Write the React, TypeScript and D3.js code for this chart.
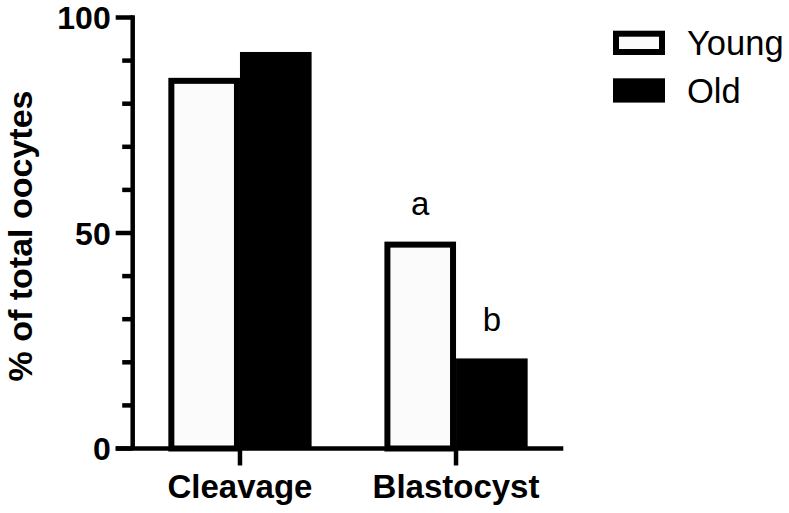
import React, { useEffect, useRef } from 'react';
import * as d3 from 'd3';

const categories = ['Cleavage', 'Blastocyst'];
const groups = ['Young', 'Old'];
const youngValues = [86.0, 48.0];
const oldValues = [92.0, 20.9];
const letters = [
  { category: 'Blastocyst', group: 'Young', label: 'a' },
  { category: 'Blastocyst', group: 'Old', label: 'b' },
];
const majorTicks = [0, 50, 100];
const minorTicks = [10, 20, 30, 40, 60, 70, 80, 90];

const FONT = "Arial, 'Liberation Sans', Helvetica, sans-serif";

const App: React.FC = () => {
  const chartRef = useRef<SVGSVGElement>(null);

  useEffect(() => {
    if (!chartRef.current) return;
    const width = 789;
    const height = 513;

    const svg = d3.select(chartRef.current);
    svg.selectAll('*').remove();
    svg.attr('width', width).attr('height', height);

    const left = 132.7;
    const right = 563.3;
    const y = d3.scaleLinear().domain([0, 100]).range([448.5, 17.5]);

    const x0 = d3
      .scaleBand<string>()
      .domain(categories)
      .range([left, right])
      .paddingInner(0.337)
      .paddingOuter(0.165);
    const x1 = d3.scaleBand<string>().domain(groups).range([0, x0.bandwidth()]);

    const data = categories.map((c, i) => ({
      category: c,
      values: [
        { group: 'Young', value: youngValues[i] },
        { group: 'Old', value: oldValues[i] },
      ],
    }));

    const sw = 6;

    // bars
    const g = svg
      .selectAll('.cat')
      .data(data)
      .enter()
      .append('g')
      .attr('transform', (d) => `translate(${x0(d.category)},0)`);

    g.each(function (d) {
      const grp = d3.select(this);
      d.values.forEach((v) => {
        const bx = x1(v.group)!;
        const bw = x1.bandwidth();
        const top = y(v.value);
        const bh = y(0) - top;
        if (v.group === 'Young') {
          grp
            .append('rect')
            .attr('x', bx + sw / 2)
            .attr('y', top + sw / 2)
            .attr('width', bw - sw)
            .attr('height', bh - sw / 2)
            .attr('fill', '#fbfbfb')
            .attr('stroke', '#000')
            .attr('stroke-width', sw);
        } else {
          grp
            .append('rect')
            .attr('x', bx)
            .attr('y', top)
            .attr('width', bw)
            .attr('height', bh)
            .attr('fill', '#000');
        }
      });
    });

    // significance letters
    letters.forEach((l) => {
      const ci = categories.indexOf(l.category);
      const val = l.group === 'Young' ? youngValues[ci] : oldValues[ci];
      svg
        .append('text')
        .attr('x', x0(l.category)! + x1(l.group)! + x1.bandwidth() / 2)
        .attr('y', y(val) - 27)
        .attr('text-anchor', 'middle')
        .attr('font-family', FONT)
        .attr('font-size', 33)
        .attr('fill', '#000')
        .text(l.label);
    });

    // y axis
    const axisW = 4.5;
    svg
      .append('line')
      .attr('x1', left)
      .attr('x2', left)
      .attr('y1', y(100) - axisW / 2)
      .attr('y2', y(0))
      .attr('stroke', '#000')
      .attr('stroke-width', axisW);

    svg
      .selectAll('.major')
      .data(majorTicks)
      .enter()
      .append('line')
      .attr('x1', left - 17)
      .attr('x2', left)
      .attr('y1', (d) => y(d))
      .attr('y2', (d) => y(d))
      .attr('stroke', '#000')
      .attr('stroke-width', axisW);

    svg
      .selectAll('.minor')
      .data(minorTicks)
      .enter()
      .append('line')
      .attr('x1', left - 10.5)
      .attr('x2', left)
      .attr('y1', (d) => y(d))
      .attr('y2', (d) => y(d))
      .attr('stroke', '#000')
      .attr('stroke-width', axisW);

    svg
      .selectAll('.ylab')
      .data(majorTicks)
      .enter()
      .append('text')
      .attr('x', left - 22)
      .attr('y', (d) => y(d))
      .attr('dy', '0.36em')
      .attr('text-anchor', 'end')
      .attr('font-family', FONT)
      .attr('font-weight', 'bold')
      .attr('font-size', 32)
      .attr('fill', '#000')
      .text((d) => d);

    // x axis
    svg
      .append('line')
      .attr('x1', left - 17)
      .attr('x2', right)
      .attr('y1', y(0))
      .attr('y2', y(0))
      .attr('stroke', '#000')
      .attr('stroke-width', axisW);

    svg
      .selectAll('.xtick')
      .data(categories)
      .enter()
      .append('line')
      .attr('x1', (d) => x0(d)! + x0.bandwidth() / 2)
      .attr('x2', (d) => x0(d)! + x0.bandwidth() / 2)
      .attr('y1', y(0))
      .attr('y2', y(0) + 17)
      .attr('stroke', '#000')
      .attr('stroke-width', axisW);

    svg
      .selectAll('.xlab')
      .data(categories)
      .enter()
      .append('text')
      .attr('x', (d) => x0(d)! + x0.bandwidth() / 2)
      .attr('y', 498)
      .attr('text-anchor', 'middle')
      .attr('font-family', FONT)
      .attr('font-weight', 'bold')
      .attr('font-size', 33)
      .attr('fill', '#000')
      .text((d) => d);

    // y title
    svg
      .append('text')
      .attr('transform', 'translate(32,236) rotate(-90)')
      .attr('text-anchor', 'middle')
      .attr('font-family', FONT)
      .attr('font-weight', 'bold')
      .attr('font-size', 34)
      .attr('fill', '#000')
      .text('% of total oocytes');

    // legend
    const legend = svg
      .selectAll('.legend')
      .data(groups)
      .enter()
      .append('g')
      .attr('transform', (d, i) => `translate(613,${30.7 + i * 47.6})`);

    legend
      .append('rect')
      .attr('x', (d) => (d === 'Young' ? sw / 2 : 0))
      .attr('y', (d) => (d === 'Young' ? sw / 2 : 0))
      .attr('width', (d) => (d === 'Young' ? 52 - sw : 52))
      .attr('height', (d) => (d === 'Young' ? 24.3 - sw : 24.3))
      .attr('fill', (d) => (d === 'Young' ? '#fbfbfb' : '#000'))
      .attr('stroke', (d) => (d === 'Young' ? '#000' : 'none'))
      .attr('stroke-width', sw);

    legend
      .append('text')
      .attr('x', 74)
      .attr('y', 24.5)
      .attr('font-family', FONT)
      .attr('font-size', 34.5)
      .attr('fill', '#000')
      .text((d) => d);
  }, []);

  return (
    <svg
      ref={chartRef}
      style={{ position: 'absolute', left: 0, top: 0, background: '#fff' }}
    ></svg>
  );
};

export default App;
